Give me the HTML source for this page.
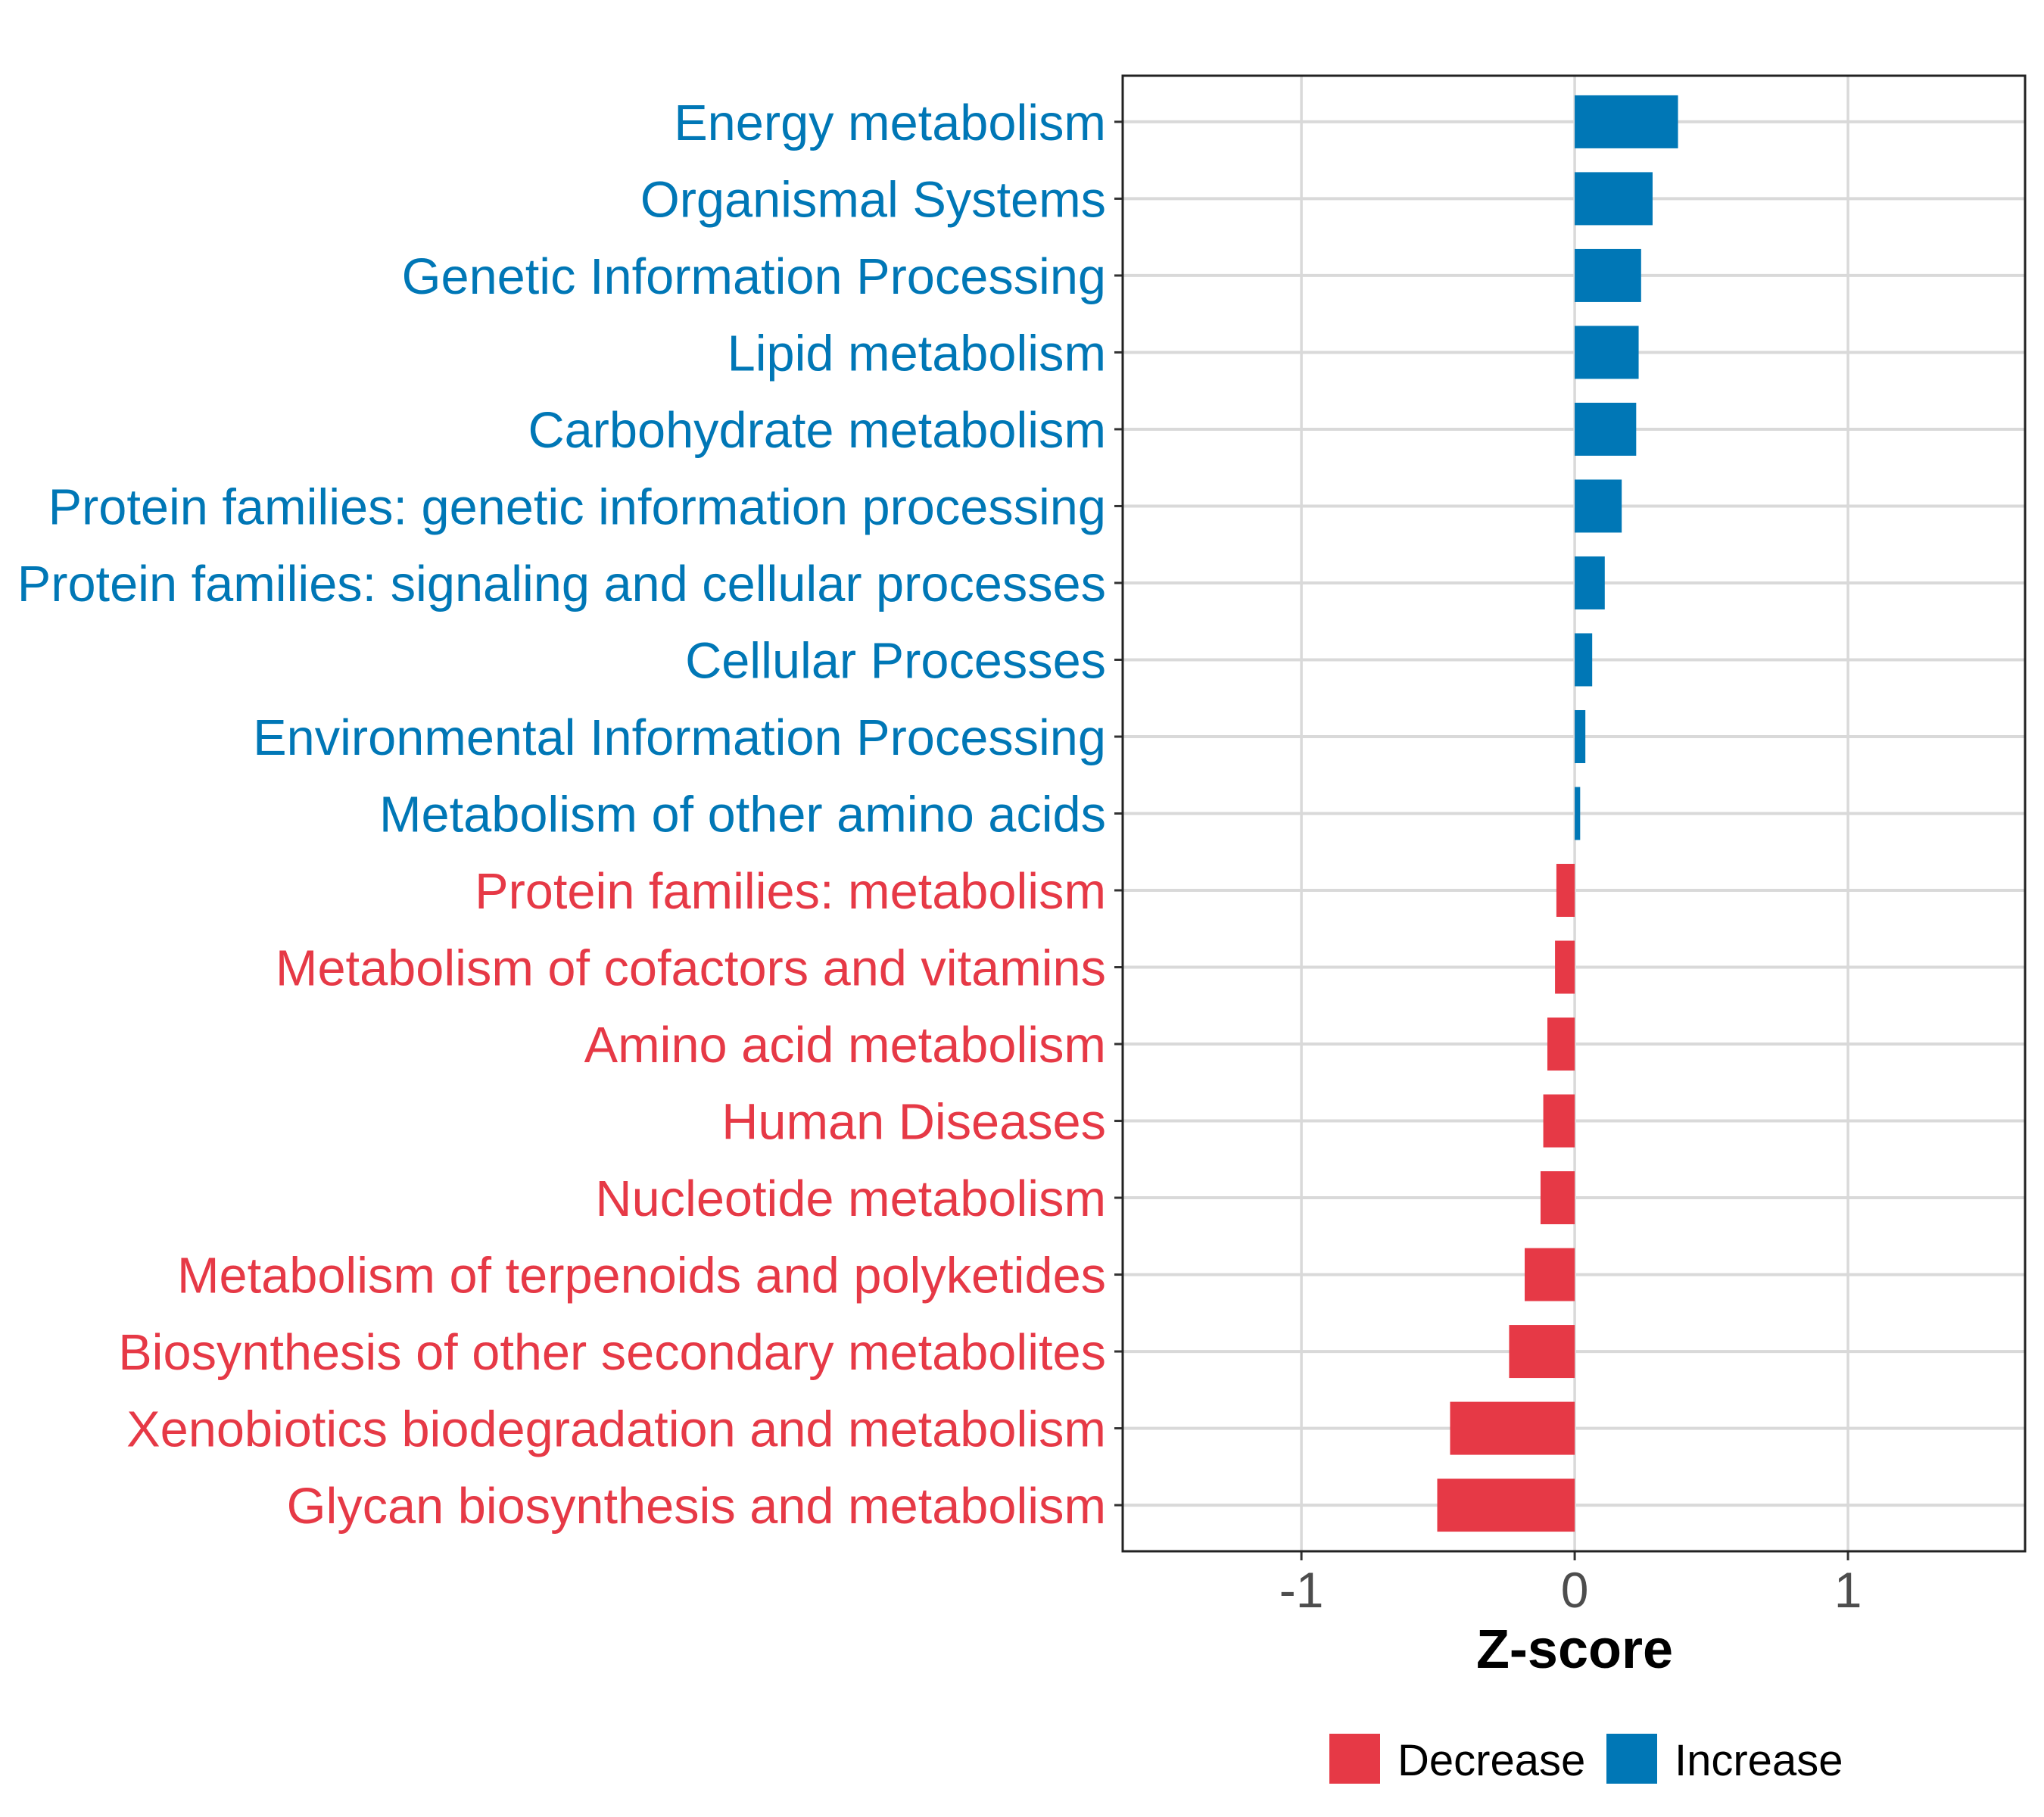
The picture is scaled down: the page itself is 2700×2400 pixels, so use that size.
<!DOCTYPE html>
<html><head><meta charset="utf-8"><style>
body{margin:0;background:#fff}
svg{display:block;font-family:"Liberation Sans",sans-serif}
</style></head><body>
<svg id="chart" width="2700" height="2400" viewBox="0 0 2700 2400">
<rect x="0" y="0" width="2700" height="2400" fill="#fff"/>
<g id="grid"></g><g id="bars"></g><g id="ylabels"></g><g id="xaxis"></g>
<rect x="1483" y="100" width="1192" height="1949" fill="none" stroke="#222" stroke-width="3"/>
<text x="2080" y="2203" text-anchor="middle" font-size="72" font-weight="bold" fill="#000">Z-score</text>
<g>
<rect x="1756" y="2290" width="67" height="66" fill="#E63946"/>
<text x="1846" y="2345" font-size="58" fill="#000">Decrease</text>
<rect x="2122" y="2290" width="67" height="66" fill="#0077B6"/>
<text x="2212" y="2345" font-size="58" fill="#000">Increase</text>
</g>
</svg>
<script>
const categories = ["Energy metabolism","Organismal Systems","Genetic Information Processing","Lipid metabolism","Carbohydrate metabolism","Protein families: genetic information processing","Protein families: signaling and cellular processes","Cellular Processes","Environmental Information Processing","Metabolism of other amino acids","Protein families: metabolism","Metabolism of cofactors and vitamins","Amino acid metabolism","Human Diseases","Nucleotide metabolism","Metabolism of terpenoids and polyketides","Biosynthesis of other secondary metabolites","Xenobiotics biodegradation and metabolism","Glycan biosynthesis and metabolism"];
const zscores = [0.378,0.285,0.243,0.234,0.225,0.172,0.11,0.064,0.039,0.02,-0.067,-0.072,-0.1,-0.115,-0.125,-0.183,-0.24,-0.456,-0.503];
const xTicks = [-1,0,1];
const xTickLabels = ["-1","0","1"];

const NS="http://www.w3.org/2000/svg";
const X0=1483,X1=2675,Y0=100,Y1=2049;
const xMin=-1.654,xMax=1.648;
const x=v=>X0+(v-xMin)/(xMax-xMin)*(X1-X0);
const step=(Y1-Y0)/(categories.length-1+1.2);
const y=i=>Y0+step*(i+0.6);
const barH=70;
function mk(tag,attrs,parent){const e=document.createElementNS(NS,tag);for(const k in attrs)e.setAttribute(k,attrs[k]);parent.appendChild(e);return e;}
const grid=document.getElementById('grid'),bars=document.getElementById('bars'),yl=document.getElementById('ylabels'),xa=document.getElementById('xaxis');
xTicks.forEach((t,i)=>{
  const g=mk('line',{x1:x(t),x2:x(t),y1:Y0,y2:Y1,stroke:'#d9d9d9','stroke-width':3.5},grid);
  
  
  const tk=mk('line',{x1:x(t),x2:x(t),y1:Y1,y2:Y1+12,stroke:'#333','stroke-width':3},xa);
  
  
  const lb=mk('text',{x:x(t),y:Y1+74,'text-anchor':'middle','font-size':66,fill:'#4d4d4d'},xa);
  lb.textContent=xTickLabels[i];
  
  
});
categories.forEach((c,i)=>{
  const v=zscores[i];
  const col=v>=0?'#0077B6':'#E63946';
  const gl=mk('line',{x1:X0,x2:X1,y1:y(i),y2:y(i),stroke:'#d9d9d9','stroke-width':4},grid);
  
  
  const r=mk('rect',{x:Math.min(x(0),x(v)),y:y(i)-barH/2,width:Math.abs(x(v)-x(0)),height:barH,fill:col},bars);
  
  
  const tk=mk('line',{x1:X0-11,x2:X0,y1:y(i),y2:y(i),stroke:'#333','stroke-width':3},yl);
  
  
  const t=mk('text',{x:X0-22,y:y(i)+24,'text-anchor':'end','font-size':66.7,fill:col},yl);
  t.textContent=c;
  
  
});
</script>
</body></html>
